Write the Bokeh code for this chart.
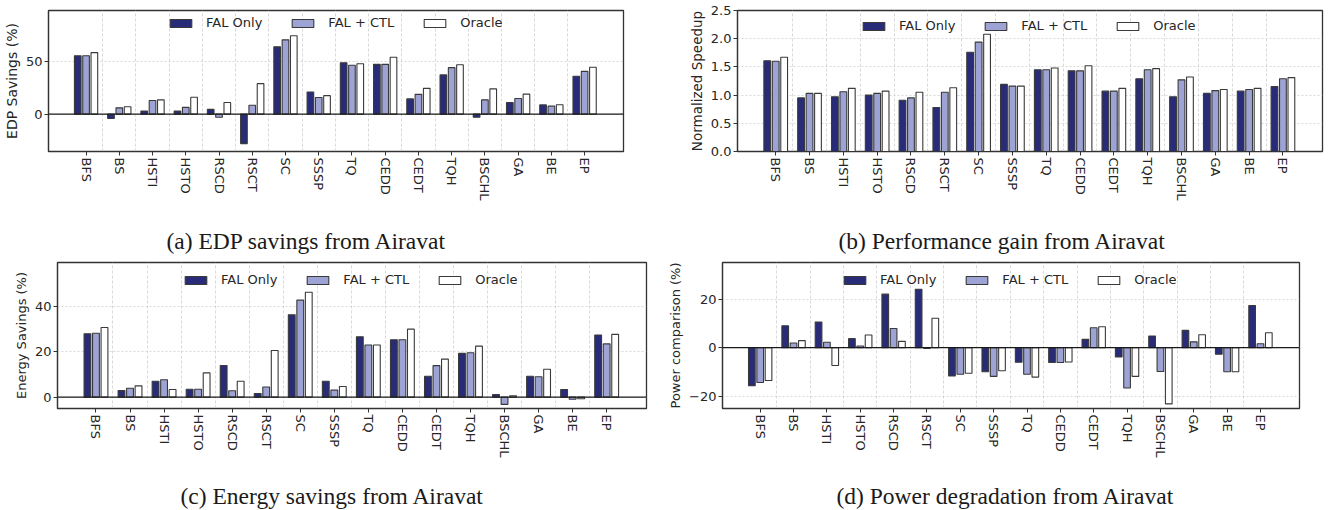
from bokeh.plotting import figure
from bokeh.layouts import column, row
from bokeh.models import (ColumnDataSource, Range1d, FixedTicker, Span, Legend,
                          LegendItem, Title, NumeralTickFormatter)
from bokeh.transform import dodge
from bokeh.embed import file_html
from bokeh.resources import INLINE

benchmarks = ["BFS", "BS", "HSTI", "HSTO", "RSCD", "RSCT", "SC", "SSSP",
              "TQ", "CEDD", "CEDT", "TQH", "BSCHL", "GA", "BE", "EP"]
series_labels = ["FAL Only", "FAL + CTL", "Oracle"]

edp_fal_only = [55.5, -4.2, 3.0, 3.0, 4.5, -28.0, 64.0, 21.0, 48.8, 47.3, 14.5, 37.3, -3.0, 11.0, 8.8, 36.0]
edp_fal_ctl = [55.5, 6.0, 13.0, 6.4, -3.0, 8.5, 70.6, 15.8, 46.4, 47.3, 18.8, 44.2, 13.6, 14.8, 7.6, 40.6]
edp_oracle = [58.5, 7.0, 13.6, 16.0, 11.0, 29.0, 74.5, 17.6, 47.9, 54.0, 24.5, 47.0, 24.0, 19.0, 9.0, 44.5]

speedup_fal_only = [1.61, 0.95, 0.97, 1.00, 0.91, 0.78, 1.76, 1.19, 1.45, 1.43, 1.07, 1.29, 0.97, 1.03, 1.07, 1.15]
speedup_fal_ctl = [1.60, 1.03, 1.06, 1.03, 0.95, 1.05, 1.94, 1.16, 1.45, 1.43, 1.07, 1.45, 1.27, 1.08, 1.10, 1.29]
speedup_oracle = [1.67, 1.03, 1.12, 1.07, 1.05, 1.13, 2.08, 1.16, 1.48, 1.52, 1.12, 1.47, 1.32, 1.10, 1.12, 1.31]

energy_fal_only = [28.0, 2.9, 7.0, 3.5, 14.0, 1.6, 36.3, 7.0, 26.6, 25.3, 9.2, 19.3, 1.2, 9.2, 3.4, 27.4]
energy_fal_ctl = [28.2, 3.9, 7.7, 3.5, 2.8, 4.5, 42.8, 3.1, 23.0, 25.3, 13.9, 19.6, -3.2, 9.0, -0.9, 23.5]
energy_oracle = [30.7, 5.0, 3.4, 10.7, 7.0, 20.6, 46.3, 4.7, 23.0, 30.0, 16.8, 22.5, 0.6, 12.3, -0.7, 27.7]

power_fal_only = [-15.6, 9.0, 10.5, 3.7, 22.0, 24.0, -11.6, -9.9, -6.0, -6.1, 3.4, -3.8, 4.8, 7.1, -2.7, 17.3]
power_fal_ctl = [-14.3, 1.9, 2.2, 0.7, 7.9, -0.3, -10.9, -11.8, -10.9, -6.1, 8.2, -16.6, -9.8, 2.4, -9.9, 1.6]
power_oracle = [-13.5, 2.9, -7.3, 5.2, 2.6, 12.1, -10.5, -9.5, -12.1, -5.9, 8.6, -11.8, -23.1, 5.3, -9.9, 6.1]

FILLS = ["#282c78", "#9da3d4", "#ffffff"]
EDGE = "#3a3a3a"
TXT = "#262626"
FIG_W, FIG_H = 665, 255


def panel(vals, ylabel, ylabel_size, yrange, yticks, caption, borders, legend_loc,
          cap_offset, cap_gap, yfmt=None, yoverrides=None, zero=True):
    left, right, top, bottom = borders
    p = figure(width=FIG_W, height=FIG_H, x_range=Range1d(-1.13, 16.17),
               y_range=Range1d(*yrange), output_backend="svg", toolbar_location=None,
               min_border_left=left, min_border_right=right,
               min_border_top=top, min_border_bottom=bottom)
    p.title.text = ""
    src = ColumnDataSource(dict(idx=list(range(len(benchmarks))),
                                s0=vals[0], s1=vals[1], s2=vals[2]))
    offsets = [-0.25, 0.0, 0.25]
    items = []
    for k, col in enumerate(["s0", "s1", "s2"]):
        r = p.vbar(x=dodge("idx", offsets[k], range=p.x_range), top=col, bottom=0, width=0.2,
                   source=src, fill_color=FILLS[k], line_color=EDGE, line_width=1.1)
        items.append(LegendItem(label=series_labels[k], renderers=[r]))
    if zero:
        p.add_layout(Span(location=0, dimension="width", line_color="#1a1a1a", line_width=1.3))

    leg = Legend(items=items, orientation="horizontal", location=legend_loc,
                 padding=0, margin=0, spacing=27, label_standoff=12,
                 glyph_width=27, glyph_height=10, label_height=14,
                 label_text_font="DejaVu Sans", label_text_font_size="13px",
                 label_text_color=TXT, border_line_color=None, background_fill_alpha=0)
    p.add_layout(leg)

    # axes
    p.xaxis.ticker = FixedTicker(ticks=list(range(len(benchmarks))))
    p.xaxis.major_label_overrides = {i: b for i, b in enumerate(benchmarks)}
    p.xaxis.major_label_orientation = "vertical"
    p.yaxis.ticker = FixedTicker(ticks=yticks)
    if yfmt:
        p.yaxis.formatter = NumeralTickFormatter(format=yfmt)
    if yoverrides:
        p.yaxis.major_label_overrides = yoverrides
    p.yaxis.axis_label = ylabel
    for ax in (p.xaxis[0], p.yaxis[0]):
        ax.axis_line_color = "#333333"
        ax.axis_line_width = 1.2
        ax.major_tick_line_color = "#333333"
        ax.major_tick_out = 4
        ax.major_tick_in = 0
        ax.minor_tick_line_color = None
        ax.major_label_text_font = "DejaVu Sans"
        ax.major_label_text_color = TXT
        ax.major_label_standoff = 2
    p.xaxis.major_label_text_font_size = "13px"
    p.yaxis.major_label_text_font_size = "13px"
    p.yaxis.axis_label_text_font = "DejaVu Sans"
    p.yaxis.axis_label_text_font_size = ylabel_size
    p.yaxis.axis_label_text_font_style = "normal"
    p.yaxis.axis_label_text_color = TXT
    p.yaxis.axis_label_standoff = 3

    # grids
    p.xgrid.ticker = FixedTicker(ticks=[i + 0.5 for i in range(len(benchmarks) - 1)])
    p.xgrid.grid_line_color = "#cfcfcf"
    p.xgrid.grid_line_dash = "3 2"
    p.xgrid.grid_line_width = 0.8
    p.ygrid.grid_line_color = "#cfcfcf"
    p.ygrid.grid_line_dash = "2 2"
    p.ygrid.grid_line_width = 0.8

    p.outline_line_color = "#333333"
    p.outline_line_width = 1.3
    p.background_fill_color = "white"
    p.border_fill_color = "white"

    # caption below the tick labels (spacer + caption)
    p.add_layout(Title(text=" ", text_font_size="1px", standoff=cap_gap), "below")
    p.add_layout(Title(text=caption, align="left", vertical_align="top", offset=cap_offset,
                       standoff=0, text_font="Liberation Serif", text_font_size="23.5px",
                       text_font_style="normal", text_color="#1a1a1a"), "below")
    return p


pa = panel([edp_fal_only, edp_fal_ctl, edp_oracle], "EDP Savings (%)", "14px", (-35.5, 98.5),
           [0, 50], "(a) EDP savings from Airavat", (47, 42, 6, 102), (119, 120.7), 118, 21)
pb = panel([speedup_fal_only, speedup_fal_ctl, speedup_oracle], "Normalized Speedup", "13.5px",
           (0, 2.5), [0, 0.5, 1.0, 1.5, 2.0, 2.5], "(b) Performance gain from Airavat",
           (72, 8, 10, 102), (123, 118), 101, 21, yfmt="0.0", zero=False)
pc = panel([energy_fal_only, energy_fal_ctl, energy_oracle], "Energy Savings (%)", "13px",
           (-5, 59.4), [0, 20, 40], "(c) Energy savings from Airavat", (57, 19, 7, 101),
           (125, 120.6), 123, 19)
pd = panel([power_fal_only, power_fal_ctl, power_oracle], "Power comparison (%)", "13px",
           (-25, 35), [-20, 0, 20], "(d) Power degradation from Airavat", (57, 31, 7, 101),
           (119, 120.6), 114, 19, yoverrides={-20: "\u221220"})

layout = column(row(pa, pb), row(pc, pd))
open("out.html", "w").write(file_html(layout, INLINE))
